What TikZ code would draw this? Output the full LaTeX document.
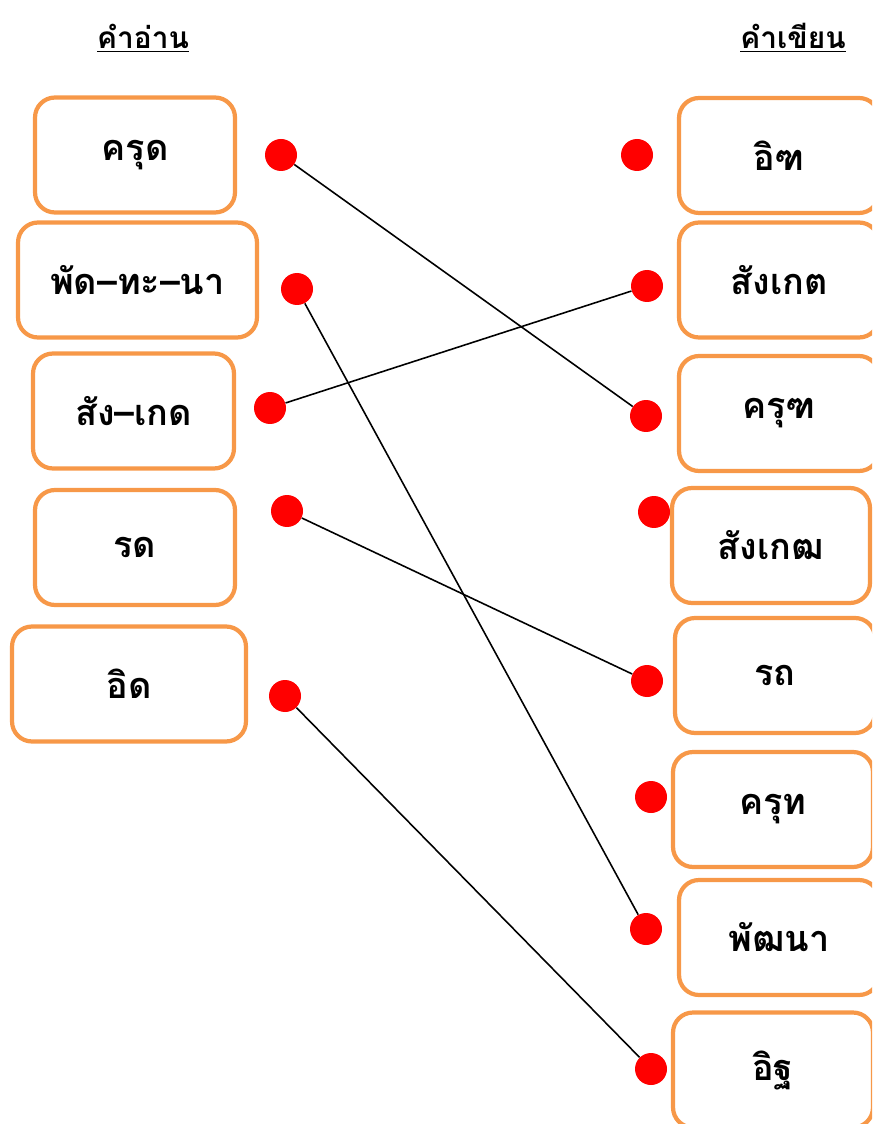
\documentclass[tikz,border=0pt]{standalone}
\usepackage{fontspec}
\newfontfamily\thaifont[Script=Thai]{Loma}
\definecolor{boxorange}{RGB}{247,152,72}

\begin{document}
\begin{tikzpicture}[x=0.02cm,y=-0.02cm]
\tikzstyle{word}=[draw=boxorange,line width=2.4pt,rounded corners=0.4cm,fill=white,minimum height=2.3cm,font=\thaifont\bfseries\fontsize{20.5}{24}\selectfont]
\tikzstyle{dot}=[circle,fill=red,inner sep=0pt,minimum size=0.64cm]
\tikzstyle{head}=[font=\thaifont\bfseries\fontsize{17}{20}\selectfont]

\useasboundingbox (0,0) rectangle (872,1124);
\clip (0,0) rectangle (872,1124);

\node [head] (HL) at (143,38) {\underline{คำอ่าน}};
\node [head] (HR) at (793,38) {\underline{คำเขียน}};

\node [word,minimum width=4cm] (L1) at (135,155) {ครุด};
\node [word,minimum width=4.78cm] (L2) at (137.5,280) {พัด–ทะ–นา};
\node [word,minimum width=4.02cm] (L3) at (133.5,411) {สัง–เกด};
\node [word,minimum width=4cm] (L4) at (135,547.5) {รด};
\node [word,minimum width=4.68cm] (L5) at (129,684) {อิด};

\node [word,minimum width=4cm] (R1) at (779,155.5) {อิฑ};
\node [word,minimum width=4cm] (R2) at (779,280) {สังเกต};
\node [word,minimum width=4cm] (R3) at (779,413.5) {ครุฑ};
\node [word,minimum width=3.96cm] (R4) at (771,545.5) {สังเกฒ};
\node [word,minimum width=4cm] (R5) at (775,675.5) {รถ};
\node [word,minimum width=4cm] (R6) at (773,809.5) {ครุท};
\node [word,minimum width=4cm] (R7) at (779,937.5) {พัฒนา};
\node [word,minimum width=4cm] (R8) at (773,1070) {อิฐ};

\node [dot] (a1) at (281,155) {};
\node [dot] (a2) at (297,289) {};
\node [dot] (a3) at (270,408) {};
\node [dot] (a4) at (287,511) {};
\node [dot] (a5) at (285,696) {};

\node [dot] (b1) at (637,155) {};
\node [dot] (b2) at (647,286) {};
\node [dot] (b3) at (646,416) {};
\node [dot] (b4) at (654,512) {};
\node [dot] (b5) at (647,681) {};
\node [dot] (b6) at (651,797) {};
\node [dot] (b7) at (646,929) {};
\node [dot] (b8) at (651,1069) {};

\path[every edge/.style={draw,line width=0.9pt}]
 (a1) edge (b3)
 (a2) edge (b7)
 (a3) edge (b2)
 (a4) edge (b5)
 (a5) edge (b8);
\end{tikzpicture}
\end{document}
